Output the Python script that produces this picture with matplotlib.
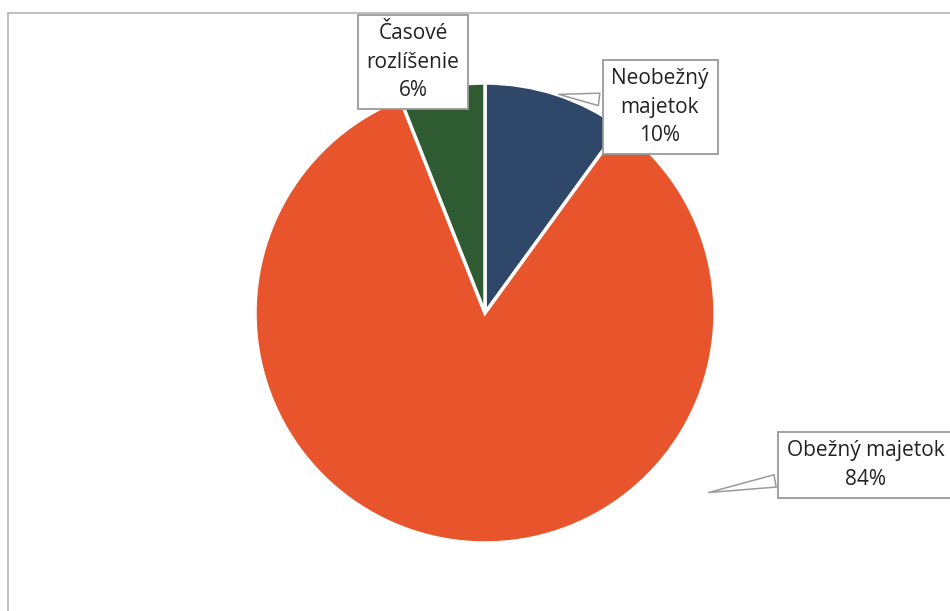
import matplotlib.pyplot as plt
from matplotlib.patches import Rectangle

# data
labels = ['Neobežný\nmajetok', 'Obežný majetok', 'Časové\nrozlíšenie']
values = [10, 84, 6]
colors = ['#2F4768', '#E8552D', '#2E5B31']

W, H = 950, 611
fig = plt.figure(figsize=(W / 100, H / 100), dpi=100)
ax = fig.add_axes([0, 0, 1, 1])

wedges, _ = ax.pie(values, colors=colors, startangle=90, counterclock=False,
                   center=(485, H - 313), radius=230,
                   wedgeprops=dict(edgecolor='white', linewidth=2.5))

# pie() resets limits, so set them afterwards
ax.set_xlim(0, W)
ax.set_ylim(0, H)
ax.set_aspect('equal')
ax.axis('off')

# chart frame (scanned page border)
ax.add_patch(Rectangle((8, -10), 960, H - 13 + 10, fill=False,
                       edgecolor='#b5b5b5', linewidth=1.2))

total = sum(values)
texts = [f'{l}\n{round(v / total * 100)}%' for l, v in zip(labels, values)]

# label positions (pixel coords, y from top) and callout anchors
label_pos = [(660, 107), (866, 465), (413, 62)]
anchor_pos = [(556, 94), (706, 493), None]

for t, (lx, ly), anc in zip(texts, label_pos, anchor_pos):
    kw = dict(ha='center', va='center', fontsize=15, family='Open Sans',
              color='#222222', linespacing=1.45,
              bbox=dict(boxstyle='square,pad=0.42', facecolor='white',
                        edgecolor='#9a9a9a', linewidth=1.3))
    if anc is None:
        ax.text(lx, H - ly, t, **kw)
    else:
        ax.annotate(t, xy=(anc[0], H - anc[1]), xytext=(lx, H - ly),
                    arrowprops=dict(arrowstyle='wedge,tail_width=0.6,shrink_factor=0.5',
                                    facecolor='white', edgecolor='#9a9a9a',
                                    linewidth=1.1),
                    **kw)

fig.savefig('out.png', dpi=100)
